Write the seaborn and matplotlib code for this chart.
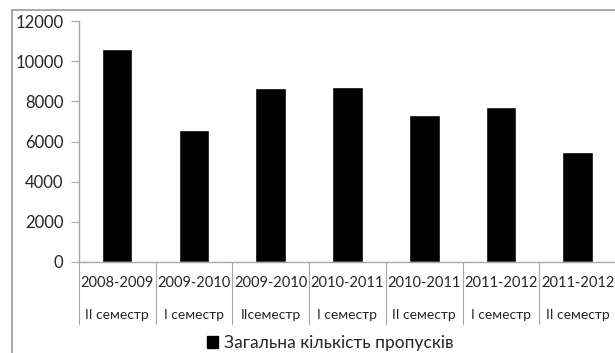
import matplotlib
matplotlib.use("Agg")
import matplotlib.pyplot as plt
import seaborn as sns
import pandas as pd
from matplotlib.lines import Line2D
from matplotlib.patches import Patch

# Data
years = ["2008-2009", "2009-2010", "2009-2010", "2010-2011", "2010-2011", "2011-2012", "2011-2012"]
semesters = ["II семестр", "I семестр", "IIсеместр", "I семестр", "II семестр", "I семестр", "II семестр"]
absences = [10600, 6600, 8650, 8700, 7300, 7700, 5500]
legend_label = "Загальна кількість пропусків"

sns.set_style("white")
plt.rcParams["font.family"] = ["Lato", "DejaVu Sans"]

df = pd.DataFrame({"pos": range(len(years)), "value": absences})

fig = plt.figure(figsize=(6.15, 3.53), dpi=100)
ax = fig.add_axes([0.128, 0.258, 0.874, 0.682])

sns.barplot(data=df, x="pos", y="value", color="black", width=0.4,
            saturation=1, ax=ax)

grey = "#a6a6a6"
ax.set_ylim(0, 12000)
ax.set_yticks(range(0, 12001, 2000))
ax.set_xlim(-0.5, len(years) - 0.5)
ax.set_xlabel("")
ax.set_ylabel("")
for side in ["top", "right"]:
    ax.spines[side].set_visible(False)
for side in ["left", "bottom"]:
    ax.spines[side].set_color(grey)
    ax.spines[side].set_linewidth(1)
ax.tick_params(axis="y", length=6, color=grey, labelsize=12, pad=5, left=True)
ax.tick_params(axis="x", length=0, labelbottom=False)

# table-like category labels
tr = ax.get_xaxis_transform()
for i, (yr, sem) in enumerate(zip(years, semesters)):
    ax.text(i, -0.087, yr, transform=tr, ha="center", va="center", fontsize=10.5)
    ax.text(i, -0.222, sem, transform=tr, ha="center", va="center", fontsize=10)
for b in range(len(years) + 1):
    ax.plot([b - 0.5, b - 0.5], [0, -0.258], transform=tr, color=grey,
            lw=0.8, clip_on=False)

# legend
handle = Patch(facecolor="black", edgecolor="black")
fig.legend([handle], [legend_label], loc="center", bbox_to_anchor=(0.537, 0.028),
           frameon=False, fontsize=12.5, handlelength=0.65, handleheight=0.65,
           handletextpad=0.3)

# outer chart border (cropped at right and bottom)
fig.add_artist(Line2D([12 / 615, 12 / 615], [0, 1 - 10 / 353], color="#999999", lw=1.2))
fig.add_artist(Line2D([12 / 615, 1], [1 - 10 / 353, 1 - 10 / 353], color="#999999", lw=1.2))

fig.savefig("out.png", dpi=100)
